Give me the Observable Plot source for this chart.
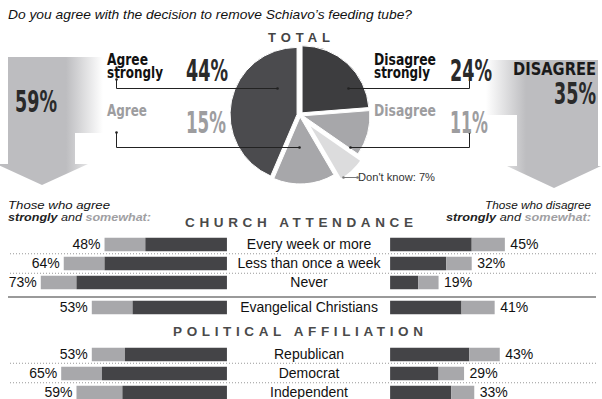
<!DOCTYPE html>
<html>
<head>
<meta charset="utf-8">
<script src="https://cdn.jsdelivr.net/npm/d3@7"></script>
<script src="https://cdn.jsdelivr.net/npm/@observablehq/plot@0.6"></script>
<style>
  html, body { margin: 0; padding: 0; background: #fff; }
  #chart { position: relative; width: 602px; height: 399px; overflow: hidden; background: #fff; }
  #chart > div, #chart > svg { position: absolute; left: 0; }
</style>
</head>
<body>
<div id="chart"></div>
<script>
// ---------- DATA ----------
const pieLabels = ["Disagree strongly", "Disagree", "Don't know", "Agree", "Agree strongly"];
const pieValues = [24, 11, 7, 15, 44];
const agreeAll = 59;
const disagreeAll = 35;

const categories = ["Every week or more", "Less than once a week", "Never", "Evangelical Christians", "Republican", "Democrat", "Independent"];
const agreeTotal = [48, 64, 73, 53, 53, 65, 59];
const agreeStrongly = [32, 48, 59, 37, 40, 49, 41];
const disagreeTotal = [45, 32, 19, 41, 43, 29, 33];
const disagreeStrongly = [32, 22, 11, 28, 31, 19, 24];
const sections = [[0, 1, 2], [3], [4, 5, 6]];

// ---------- STYLE ----------
const DARK = "#444447", LIGHT = "#a8a8ab";
const PIE_COLORS = ["#3d3d3f", "#a7a7aa", "#dcdcdd", "#a7a7aa", "#4b4b4e"];
const PIE_OFFSETS = [3, 3, 10, 2, 3];
const PIE_STROKES = [1, 1, 2.5, 1, 1];
const SANS = "'Liberation Sans', Arial, sans-serif";
const NARROW = "'Liberation Sans Narrow', 'DejaVu Sans Condensed', 'Arial Narrow', sans-serif";
const GAP = 32; // half of the central label gap, in percentage units

const chart = document.getElementById("chart");

// ---------- PIE + LEADERS ----------
const pieCenter = [300, 115];
const pieR = 67;
const pieMark = (index, scales) => {
  const g = d3.create("svg:g");
  const arcs = d3.pie().sort(null).value(d => d)(pieValues);
  const arc = d3.arc().innerRadius(0).outerRadius(pieR);
  const cx = scales.x(pieCenter[0]), cy = scales.y(pieCenter[1]);
  arcs.forEach((a, i) => {
    const mid = (a.startAngle + a.endAngle) / 2;
    const ox = Math.sin(mid) * PIE_OFFSETS[i], oy = -Math.cos(mid) * PIE_OFFSETS[i];
    g.append("path")
      .attr("d", arc(a))
      .attr("transform", `translate(${cx + ox},${cy + oy})`)
      .attr("fill", PIE_COLORS[i])
      .attr("stroke", "#fff")
      .attr("stroke-width", PIE_STROKES[i]);
  });
  return g.node();
};

const leaders = [
  {pts: [[116, 79], [116, 88], [277, 88]], color: "#222"},
  {pts: [[116, 132], [116, 147], [299, 147]], color: "#222"},
  {pts: [[348, 88], [469, 88], [469, 70]], color: "#222"},
  {pts: [[350, 147], [469, 147], [469, 132]], color: "#222"},
  {pts: [[343, 177], [357, 177]], color: "#777"}
];
const leaderDots = leaders.flatMap(l => [l.pts[0], l.pts[l.pts.length - 1]].map(p => ({x: p[0], y: p[1], c: l.color})));

const topPlot = Plot.plot({
  width: 602, height: 200, margin: 0,
  x: {domain: [0, 602], range: [0, 602], axis: null},
  y: {domain: [0, 200], range: [0, 200], axis: null},
  color: {type: "identity"},
  style: {background: "transparent", overflow: "visible"},
  marks: [
    pieMark,
    ...leaders.map(l => Plot.line(l.pts, {x: d => d[0], y: d => d[1], stroke: l.color, strokeWidth: 1})),
    Plot.dot(leaderDots, {x: "x", y: "y", r: 1.3, fill: "c", stroke: null})
  ]
});
const topWrap = document.createElement("div");
topWrap.style.top = "0px";
topWrap.appendChild(topPlot);
chart.appendChild(topWrap);

// ---------- BAR SECTIONS ----------
const STEP = 19.5;
const sectionCenters = [244, 307.5, 353.5];
sections.forEach((idxs, s) => {
  const rows = idxs.map(i => ({
    cat: categories[i],
    at: agreeTotal[i], as: agreeStrongly[i],
    dt: disagreeTotal[i], ds: disagreeStrongly[i]
  }));
  const h = rows.length * STEP;
  const inset = (STEP - 14) / 2;
  const p = Plot.plot({
    width: 602, height: Math.ceil(h), margin: 0,
    x: {domain: [-121, 115.1], range: [0, 602], axis: null},
    y: {domain: rows.map(d => d.cat), range: [0, h], padding: 0, axis: null},
    style: {background: "transparent", overflow: "visible"},
    marks: [
      Plot.barX(rows, {y: "cat", x1: d => -(GAP + d.at), x2: d => -(GAP + d.as), fill: LIGHT, insetTop: inset, insetBottom: inset}),
      Plot.barX(rows, {y: "cat", x1: d => -(GAP + d.as), x2: d => -GAP, fill: DARK, insetTop: inset, insetBottom: inset}),
      Plot.barX(rows, {y: "cat", x1: d => GAP, x2: d => GAP + d.ds, fill: DARK, insetTop: inset, insetBottom: inset}),
      Plot.barX(rows, {y: "cat", x1: d => GAP + d.ds, x2: d => GAP + d.dt, fill: LIGHT, insetTop: inset, insetBottom: inset}),
      Plot.text(rows, {y: "cat", x: d => -(GAP + d.at), text: d => d.at + "%", textAnchor: "end", dx: -4.5, fontSize: 14, fontFamily: SANS, fill: "#111"}),
      Plot.text(rows, {y: "cat", x: d => GAP + d.dt, text: d => d.dt + "%", textAnchor: "start", dx: 5, fontSize: 14, fontFamily: SANS, fill: "#111"}),
      Plot.text(rows, {y: "cat", x: d => 0, text: "cat", textAnchor: "middle", fontSize: 14, fontFamily: SANS, fill: "#111"})
    ]
  });
  const w = document.createElement("div");
  w.style.top = (sectionCenters[s] - STEP / 2) + "px";
  w.appendChild(p);
  chart.appendChild(w);
});

// ---------- ANNOTATION LAYER ----------
const svg = d3.select(chart).append("svg")
  .attr("width", 602).attr("height", 399)
  .style("top", "0px").style("pointer-events", "none");

const defs = svg.append("defs");
const gl = defs.append("linearGradient").attr("id", "gl").attr("gradientUnits", "userSpaceOnUse")
  .attr("x1", 66).attr("x2", 103).attr("y1", 0).attr("y2", 0);
gl.append("stop").attr("offset", 0).attr("stop-color", "#bdbdc0");
gl.append("stop").attr("offset", 1).attr("stop-color", "#ffffff");
const gr = defs.append("linearGradient").attr("id", "gr").attr("gradientUnits", "userSpaceOnUse")
  .attr("x1", 486).attr("x2", 526).attr("y1", 0).attr("y2", 0);
gr.append("stop").attr("offset", 0).attr("stop-color", "#ffffff");
gr.append("stop").attr("offset", 1).attr("stop-color", "#bdbdc0");

svg.append("polygon").attr("fill", "url(#gl)")
  .attr("points", "8,57 103,57 103,133 75,133 75,164 88,164 42,185 -4,164 8,164");
svg.append("polygon").attr("fill", "url(#gr)")
  .attr("points", "480,60 598,60 598,166 601,166 554,188 507,166 517,166 517,115 480,115");

function T(str, x, y, o = {}) {
  const t = svg.append("text").attr("x", x).attr("y", y)
    .attr("font-family", o.family || SANS)
    .attr("font-size", o.size || 12)
    .attr("font-weight", o.weight || "normal")
    .attr("font-style", o.style || "normal")
    .attr("fill", o.fill || "#111")
    .attr("text-anchor", o.anchor || "start")
    .text(str);
  if (o.tl) t.attr("textLength", o.tl).attr("lengthAdjust", o.adjust || "spacingAndGlyphs");
  return t;
}
// text squeezed horizontally by a transform to a target width
function TF(str, x, y, w, o = {}) {
  const g = svg.append("g");
  const t = g.append("text").attr("x", 0).attr("y", 0)
    .attr("font-family", o.family || SANS)
    .attr("font-size", o.size || 12)
    .attr("font-weight", o.weight || "normal")
    .attr("fill", o.fill || "#111")
    .attr("text-anchor", o.anchor || "start")
    .text(str);
  const nat = t.node().getComputedTextLength() || w;
  g.attr("transform", `translate(${x},${y}) scale(${w / nat},1)`);
  return g;
}
// multi-line text as one element
function TM(lines, o = {}) {
  const t = svg.append("text")
    .attr("font-family", o.family || SANS)
    .attr("font-weight", o.weight || "normal")
    .attr("fill", o.fill || "#111");
  lines.forEach(l => {
    const s = t.append("tspan").attr("x", l.x).attr("y", l.y)
      .attr("font-size", l.size || o.size || 12)
      .attr("text-anchor", l.anchor || "start")
      .text(l.str);
    if (l.fill) s.attr("fill", l.fill);
    if (l.tl) s.attr("textLength", l.tl).attr("lengthAdjust", "spacingAndGlyphs");
  });
  return t;
}

T("Do you agree with the decision to remove Schiavo’s feeding tube?", 8, 19, {size: 13, style: "italic", tl: 404});
T("TOTAL", 268, 42, {size: 13, weight: "bold", fill: "#444", tl: 62, adjust: "spacing"});

const big = {family: NARROW, weight: "bold", size: 15, fill: "#111"};
TM([{str: "Agree", x: 107, y: 64.5, tl: 41}, {str: "strongly", x: 107, y: 78, tl: 56}], big);
TM([{str: "Disagree", x: 374, y: 64.5, tl: 62}, {str: "strongly", x: 374, y: 78, tl: 56}], big);
T("Agree", 107, 116, {...big, size: 15.5, fill: "#9d9d9f", tl: 40});
T("Disagree", 374, 116, {...big, size: 15.5, fill: "#9d9d9f", tl: 62});

const num = {family: NARROW, weight: "bold", size: 30, fill: "#2a2a2a"};
TF(pieValues[4] + "%", 186, 81, 42, num);
TF(pieValues[0] + "%", 450, 81, 42, num);
TF(pieValues[3] + "%", 186, 133, 40, {...num, fill: "#9d9d9f"});
TF(pieValues[1] + "%", 450, 133, 38, {...num, fill: "#9d9d9f"});
TF(agreeAll + "%", 15, 112, 42, num);

// "DISAGREE" and its total share one element, squeezed together
{
  const probe = svg.append("text").attr("font-family", NARROW).attr("font-weight", "bold").attr("font-size", 30).text(disagreeAll + "%");
  const nat = probe.node().getComputedTextLength() || 42;
  probe.remove();
  const s = 42 / nat;
  const g = svg.append("g").attr("transform", `translate(596,0) scale(${s},1)`);
  const t = g.append("text").attr("font-family", NARROW).attr("font-weight", "bold").attr("text-anchor", "end");
  t.append("tspan").attr("x", 0).attr("y", 75).attr("font-size", 17).attr("fill", "#1a1a1a")
    .attr("textLength", 83 / s).attr("lengthAdjust", "spacingAndGlyphs").text("DISAGREE");
  t.append("tspan").attr("x", 0).attr("y", 104).attr("font-size", 30).attr("fill", "#2a2a2a").text(disagreeAll + "%");
}
T("Don't know: " + pieValues[2] + "%", 358, 181, {size: 11, fill: "#333", tl: 77});

// lower headers
T("Those who agree", 8, 209, {size: 11.5, style: "italic", fill: "#111", tl: 102});
const l2 = svg.append("text").attr("x", 8).attr("y", 221).attr("font-family", SANS).attr("font-size", 11.5).attr("font-style", "italic");
l2.append("tspan").attr("font-weight", "bold").attr("fill", "#222").text("strongly");
l2.append("tspan").attr("fill", "#222").text(" and ");
l2.append("tspan").attr("font-weight", "bold").attr("fill", "#a0a0a3").text("somewhat:");
l2.attr("textLength", 143).attr("lengthAdjust", "spacingAndGlyphs");

T("Those who disagree", 591, 209, {size: 11.5, style: "italic", fill: "#111", anchor: "end", tl: 106});
const r2 = svg.append("text").attr("x", 591).attr("y", 221).attr("font-family", SANS).attr("font-size", 11.5).attr("font-style", "italic").attr("text-anchor", "end");
r2.append("tspan").attr("font-weight", "bold").attr("fill", "#222").text("strongly");
r2.append("tspan").attr("fill", "#222").text(" and ");
r2.append("tspan").attr("font-weight", "bold").attr("fill", "#a0a0a3").text("somewhat:");
r2.attr("textLength", 145).attr("lengthAdjust", "spacingAndGlyphs");

T("CHURCH ATTENDANCE", 185, 227, {size: 13.5, weight: "bold", fill: "#4a4a4a", tl: 228, adjust: "spacing"});
T("POLITICAL AFFILIATION", 173, 336, {size: 13.5, weight: "bold", fill: "#4a4a4a", tl: 250, adjust: "spacing"});

// separators
svg.append("line").attr("x1", 8).attr("x2", 596).attr("y1", 297).attr("y2", 297)
  .attr("stroke", "#9a9a9a").attr("stroke-width", 2);
[sectionCenters[0] + STEP / 2, sectionCenters[0] + STEP * 1.5, sectionCenters[2] + STEP / 2, sectionCenters[2] + STEP * 1.5].forEach(y => {
  svg.append("line").attr("x1", 10).attr("x2", 597).attr("y1", y).attr("y2", y)
    .attr("stroke", "#999").attr("stroke-width", 1).attr("stroke-dasharray", "1,2");
});
</script>
</body>
</html>
